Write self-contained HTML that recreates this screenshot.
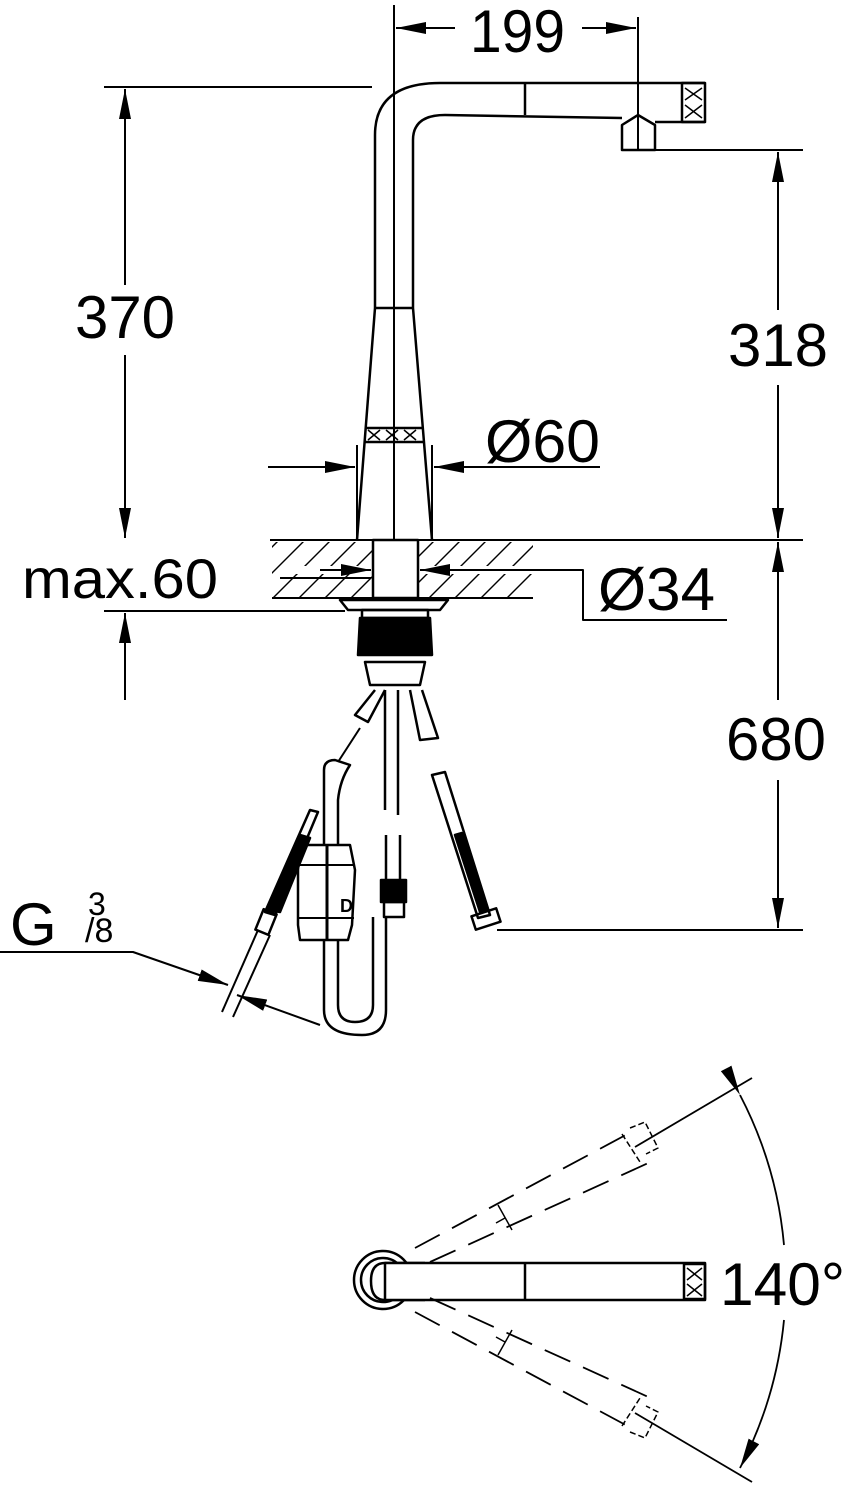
<!DOCTYPE html>
<html><head><meta charset="utf-8"><style>
html,body{margin:0;padding:0;background:#fff;}
svg{display:block;}
text{font-family:"Liberation Sans",sans-serif;fill:#000;}
</style></head><body>
<svg width="854" height="1500" viewBox="0 0 854 1500" xmlns="http://www.w3.org/2000/svg">
<defs>
<marker id="a" viewBox="0 0 30 12" refX="30" refY="6" markerWidth="30" markerHeight="12" markerUnits="userSpaceOnUse" orient="auto"><path d="M0,0 L30,6 L0,12 Z" fill="#000"/></marker>
<pattern id="h" width="26" height="60" patternUnits="userSpaceOnUse" patternTransform="skewX(-45)"><line x1="13" y1="0" x2="13" y2="60" stroke="#000" stroke-width="2"/></pattern>
</defs>
<g fill="none" stroke="#000" stroke-width="2.5" stroke-linejoin="round">
<line x1="394" y1="5" x2="394" y2="540" stroke-width="2"/>
<line x1="638" y1="17" x2="638" y2="150" stroke-width="2"/>
<line x1="455" y1="28" x2="396" y2="28" marker-end="url(#a)" stroke-width="2"/>
<line x1="582" y1="28" x2="636" y2="28" marker-end="url(#a)" stroke-width="2"/>
<line x1="104" y1="87" x2="372" y2="87" stroke-width="2"/>
<line x1="125" y1="285" x2="125" y2="89" marker-end="url(#a)" stroke-width="2"/>
<line x1="125" y1="355" x2="125" y2="538" marker-end="url(#a)" stroke-width="2"/>
<path d="M357,540 L375,308 L375,135 Q375,83 440,83 L705,83"/>
<path d="M432,540 L413,308 L413,140 Q413,115 445,115 L622,118"/>
<line x1="375" y1="308" x2="413" y2="308"/>
<line x1="525" y1="83" x2="525" y2="115"/>
<path d="M622,150 L622,125 L638,115 L655,125 L655,150 Z"/>
<line x1="655" y1="122" x2="705" y2="122"/>
<rect x="682" y="83" width="23" height="39"/>
<path d="M685,88 L702,100 M702,88 L685,100 M685,105 L702,118 M702,105 L685,118" stroke-width="1.5"/>
<line x1="366" y1="428" x2="423" y2="428"/>
<line x1="364" y1="442" x2="425" y2="442"/>
<path d="M368,430 L380,440 M380,430 L368,440 M386,430 L398,440 M398,430 L386,440 M404,430 L416,440 M416,430 L404,440" stroke-width="1.5"/>
<line x1="357" y1="445" x2="357" y2="540" stroke-width="2"/>
<line x1="432" y1="445" x2="432" y2="540" stroke-width="2"/>
<line x1="268" y1="467" x2="355" y2="467" marker-end="url(#a)" stroke-width="2"/>
<line x1="600" y1="467" x2="434" y2="467" marker-end="url(#a)" stroke-width="2"/>
<rect x="272" y="542" width="261" height="56" fill="url(#h)" stroke="none"/>
<rect x="373" y="540" width="45" height="58" fill="#fff" stroke="none"/>
<line x1="270" y1="540" x2="803" y2="540" stroke-width="2"/>
<line x1="272" y1="598" x2="533" y2="598" stroke-width="2"/>
<line x1="280" y1="570" x2="533" y2="570" stroke="#fff" stroke-width="8"/>
<line x1="280" y1="578" x2="371" y2="578" stroke-width="2"/>
<rect x="373" y="540" width="45" height="58"/>
<line x1="320" y1="570" x2="371" y2="570" marker-end="url(#a)" stroke-width="2"/>
<line x1="470" y1="570" x2="420" y2="570" marker-end="url(#a)" stroke-width="2"/>
<path d="M470,570 L583,570 L583,620 L727,620" stroke-width="2"/>
<line x1="104" y1="611" x2="345" y2="611" stroke-width="2"/>
<line x1="125" y1="700" x2="125" y2="613" marker-end="url(#a)" stroke-width="2"/>
<path d="M340,600 L448,600 L440,610 L348,610 Z"/>
<rect x="362" y="610" width="66" height="8"/>
<path d="M360,618 L430,618 L432,655 L358,655 Z" fill="#000"/>
<path d="M365,662 L425,662 L420,685 L370,685 Z"/>
<path d="M375,690 L355,715 L368,722 L385,690"/>
<path d="M410,690 L420,740 L438,738 L422,690"/>
<line x1="360" y1="728" x2="338" y2="762" stroke-width="2"/>
<path d="M385,690 L385,810 M398,690 L398,815"/>
<path d="M386,835 L386,880 M400,835 L400,880"/>
<rect x="381" y="880" width="25" height="22" fill="#000"/>
<rect x="384" y="902" width="20" height="15"/>
<path d="M386,917 L386,1010 Q386,1035 362,1035 Q324,1035 324,1010 L324,770 Q324,760 335,760 L350,765 Q340,780 338,800 L338,1005 Q338,1022 355,1022 Q373,1022 373,1005 L373,917"/>
<path d="M298,870 L300,845 L350,845 L355,870 L352,925 L348,940 L300,940 L298,925 Z" fill="#fff"/>
<line x1="327" y1="845" x2="327" y2="940" stroke-width="3"/>
<line x1="299" y1="865" x2="354" y2="865" stroke-width="2"/>
<line x1="299" y1="918" x2="354" y2="918" stroke-width="2"/>
<text x="340" y="912" font-size="18" font-weight="bold" stroke="none">D</text>
<path d="M310,810 L318,812 L275,915 L265,912 Z" fill="#fff"/>
<path d="M300,835 L310,838 L280,912 L268,910 Z" fill="#000"/>
<rect x="255" y="915" width="22" height="14" transform="rotate(-68 266 922)"/>
<line x1="258" y1="930" x2="222" y2="1012" stroke-width="2"/>
<line x1="270" y1="935" x2="233" y2="1017" stroke-width="2"/>
<path d="M432,775 L445,772 L490,915 L478,918 Z" fill="#fff"/>
<path d="M455,835 L462,833 L488,910 L480,912 Z" fill="#000"/>
<rect x="473" y="912" width="26" height="14" transform="rotate(-18 486 919)"/>
<line x1="497" y1="930" x2="803" y2="930" stroke-width="2"/>
<line x1="655" y1="150" x2="803" y2="150" stroke-width="2"/>
<line x1="778" y1="310" x2="778" y2="152" marker-end="url(#a)" stroke-width="2"/>
<line x1="778" y1="385" x2="778" y2="538" marker-end="url(#a)" stroke-width="2"/>
<line x1="778" y1="700" x2="778" y2="542" marker-end="url(#a)" stroke-width="2"/>
<line x1="778" y1="780" x2="778" y2="928" marker-end="url(#a)" stroke-width="2"/>
<path d="M0,952 L133,952 L228,985" stroke-width="2" marker-end="url(#a)"/>
<line x1="320" y1="1025" x2="237" y2="995" marker-end="url(#a)" stroke-width="2"/>
<circle cx="383" cy="1280" r="29"/>
<circle cx="383" cy="1280" r="22"/>
<path d="M425,1263 L385,1263 Q371,1263 371,1281 Q371,1300 385,1300 L425,1300" fill="#fff"/>
<rect x="385" y="1263" width="320" height="37" fill="#fff"/>
<rect x="410" y="1265" width="20" height="33" fill="#fff" stroke="none"/>
<line x1="525" y1="1263" x2="525" y2="1300"/>
<rect x="684" y="1264" width="21" height="35"/>
<path d="M687,1268 L702,1280 M702,1268 L687,1280 M687,1284 L702,1296 M702,1284 L687,1296" stroke-width="1.5"/>
<line x1="635" y1="1147" x2="752" y2="1078" stroke-width="1.8"/>
<line x1="635" y1="1413" x2="752" y2="1482" stroke-width="1.8"/>
<g stroke-dasharray="28,14" stroke-width="1.8">
<line x1="415" y1="1248" x2="635" y2="1130"/>
<line x1="430" y1="1262" x2="655" y2="1160"/>
<line x1="415" y1="1312" x2="635" y2="1430"/>
<line x1="430" y1="1298" x2="655" y2="1400"/>
</g>
<path d="M630,1128 L645,1122 L658,1148 L646,1154 M622,1134 L640,1162" stroke-dasharray="6,3" stroke-width="1.5"/>
<path d="M630,1432 L645,1438 L658,1412 L646,1406 M622,1426 L640,1398" stroke-dasharray="6,3" stroke-width="1.5"/>
<path d="M498,1205 L512,1230 M505,1218 L496,1223 M498,1355 L512,1330 M505,1342 L496,1337" stroke-width="1.5"/>
<path d="M740,1095 A402,402 0 0 1 784,1245" stroke-width="1.8" marker-start="url(#a)"/>
<path d="M784,1320 A402,402 0 0 1 740,1468" stroke-width="1.8" marker-end="url(#a)"/>
</g>
<g stroke="none" font-size="60">
<text x="470" y="52" textLength="95" lengthAdjust="spacingAndGlyphs">199</text>
<text x="75" y="338" textLength="100" lengthAdjust="spacingAndGlyphs">370</text>
<text x="728" y="366" textLength="100" lengthAdjust="spacingAndGlyphs">318</text>
<text x="726" y="760" textLength="100" lengthAdjust="spacingAndGlyphs">680</text>
<text x="485" y="462" textLength="115" lengthAdjust="spacingAndGlyphs">Ø60</text>
<text x="598" y="610" textLength="117" lengthAdjust="spacingAndGlyphs">Ø34</text>
<text x="22" y="598" font-size="56" textLength="196" lengthAdjust="spacingAndGlyphs">max.60</text>
<text x="10" y="945">G</text>
<text x="88" y="915" font-size="32">3</text>
<text x="85" y="942" font-size="34">/8</text>
<text x="720" y="1305" textLength="125" lengthAdjust="spacingAndGlyphs">140°</text>
</g>
</svg>
</body></html>
